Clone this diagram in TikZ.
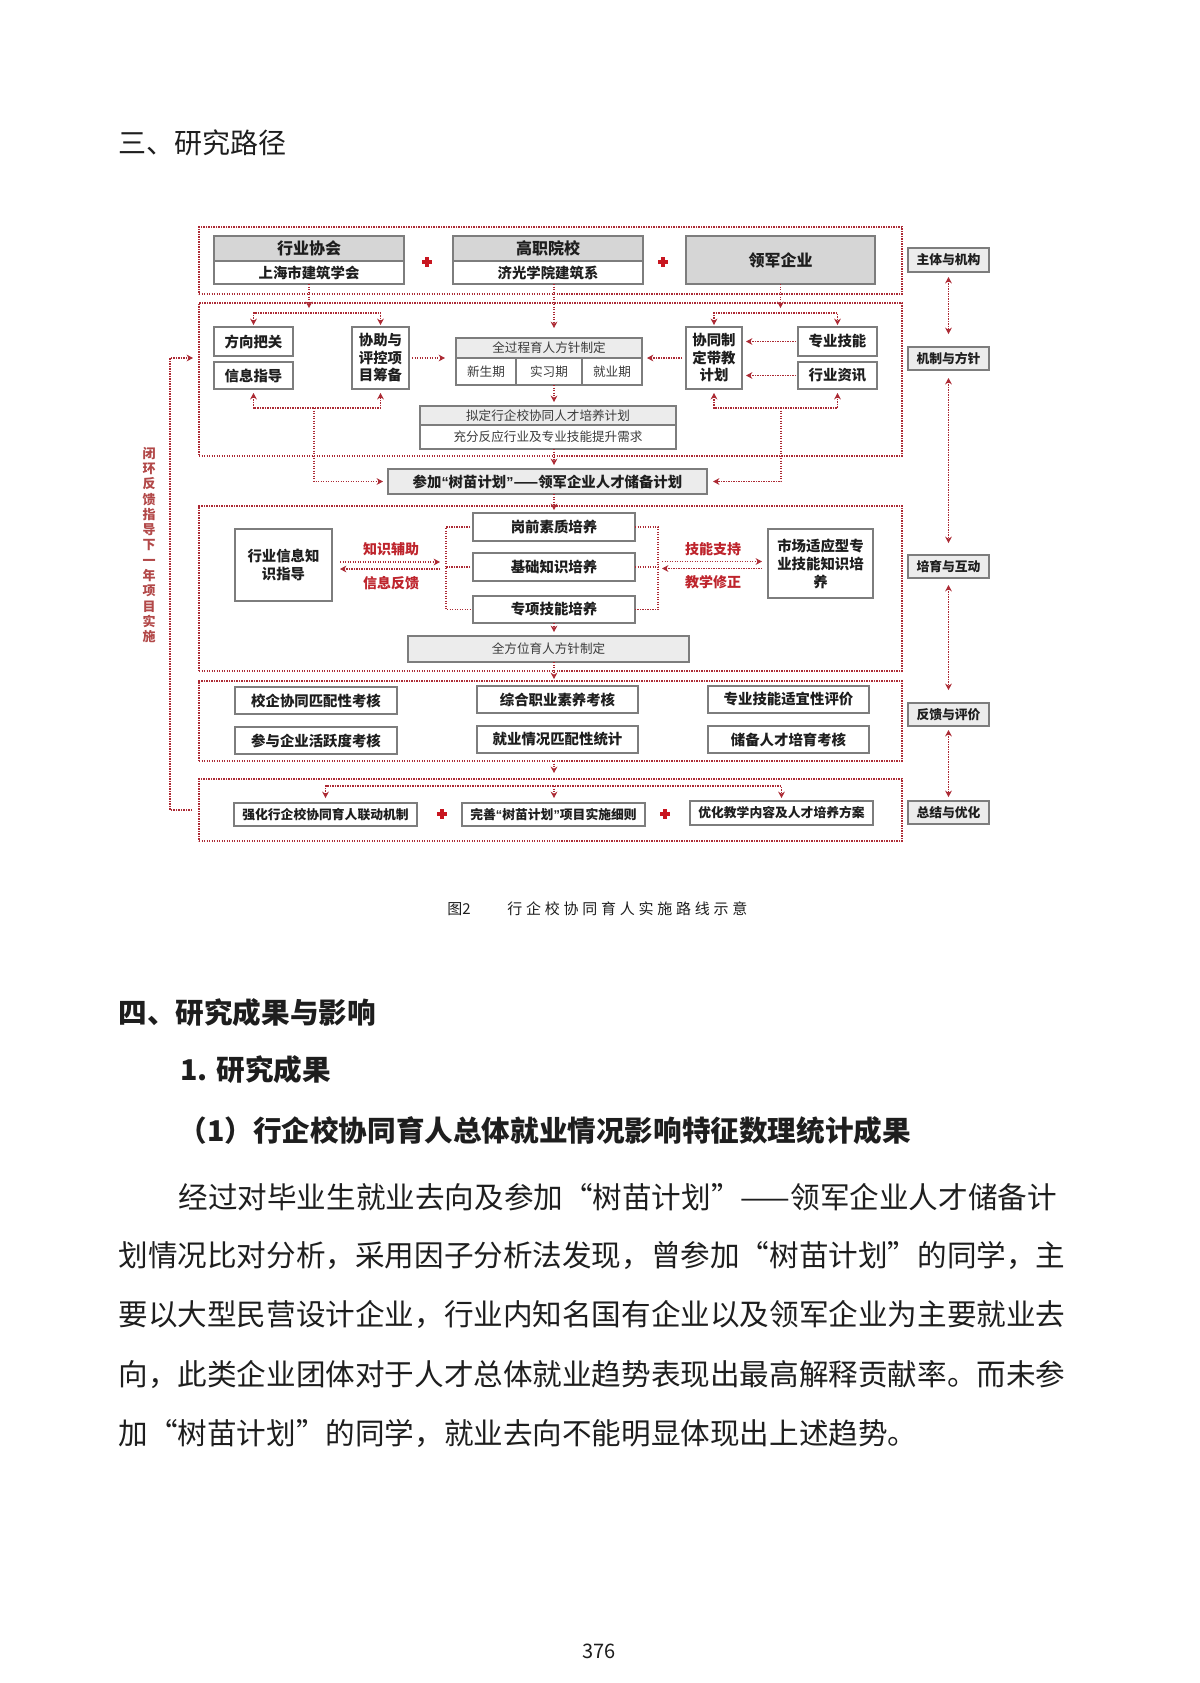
\documentclass[tikz,border=0pt]{standalone}
\usepackage{fontspec}
\setmainfont{Noto Sans CJK SC}
\newfontfamily\mycapfont[LetterSpace=25]{Noto Sans CJK SC}
\newfontfamily\myqfont{Liberation Sans}
\newcommand\myql{{\myqfont “}}
\newcommand\myqr{{\myqfont ”}}
\usetikzlibrary{arrows.meta}
\definecolor{dred}{RGB}{172,42,52}
\definecolor{xred}{RGB}{200,22,32}
\definecolor{lred}{RGB}{190,36,44}
\definecolor{vred}{RGB}{178,72,72}
\definecolor{bgray}{RGB}{125,125,125}
\definecolor{fillA}{RGB}{214,214,214}
\definecolor{fillB}{RGB}{236,236,236}
\definecolor{txt}{RGB}{30,30,30}
\definecolor{txtl}{RGB}{60,60,60}
\newcommand\myfs[2]{\fontsize{#1}{#2}\selectfont}
\newcommand\mynode[7]{\node[#1, minimum width={(#4-#2)*0.5pt}, minimum height={(#5-#3)*0.5pt}] (#6) at ({(#2+#4)/2},{(#3+#5)/2}) {#7};}
\tikzset{
 mybox/.style={draw=bgray, line width=0.75pt, fill=white, inner sep=0pt, outer sep=0pt, text=txt, align=center},
 mya/.style={mybox, fill=fillA},
 myb/.style={mybox, fill=fillB},
 mysec/.style={draw=dred, line width=0.7pt, dash pattern=on 0.7pt off 0.55pt, inner sep=0pt, outer sep=0pt},
 myline/.style={draw=dred, line width=0.7pt, dash pattern=on 0.7pt off 0.55pt},
 myarr/.style={myline, -{Stealth[length=3.2pt,width=3.4pt]}},
 mydarr/.style={myline, {Stealth[length=3.2pt,width=3.4pt]}-{Stealth[length=3.2pt,width=3.4pt]}},
 fbig/.style={font=\bfseries\myfs{8pt}{9pt}},
 fmid/.style={font=\bfseries\myfs{7.2pt}{8.75pt}},
 fmidb/.style={font=\bfseries\myfs{7.2pt}{9pt}},
 fsml/.style={font=\myfs{6.3pt}{7.5pt}, text=txtl},
 fsmb/.style={font=\bfseries\myfs{6.4pt}{7.5pt}},
 redlab/.style={font=\bfseries\myfs{7pt}{8pt}, text=lred, inner sep=0pt},
 plain/.style={anchor=west, inner sep=0pt, text=txt},
}
\begin{document}
\begin{tikzpicture}[x=0.5pt,y=-0.5pt]
\fill[white] (0,0) rectangle (1200,1683);
\useasboundingbox (0,0) rectangle (1200,1683);

% ---------- page text ----------
\node[plain, font=\myfs{14pt}{16pt}] (h1) at (118,143) {三、研究路径};
\node[plain, font=\myfs{7.5pt}{9pt}] (cap1) at (447,909) {图2};
\node[plain, font=\mycapfont\myfs{7.5pt}{9pt}] (cap2) at (507,909) {行企校协同育人实施路线示意};
\node[plain, font=\bfseries\myfs{14.3pt}{16pt}] (h2) at (118,1013) {四、研究成果与影响};
\node[plain, font=\bfseries\myfs{14.3pt}{16pt}] (h3) at (180,1070) {1. 研究成果};
\node[plain, font=\bfseries\myfs{14.3pt}{16pt}] (h4) at (178,1131) {（1）行企校协同育人总体就业情况影响特征数理统计成果};
\node[plain, font=\myfs{14.8pt}{16pt}] (p1) at (178,1197) {经过对毕业生就业去向及参加“树苗计划”——领军企业人才储备计};
\node[plain, font=\myfs{14.8pt}{16pt}] (p2) at (118,1256) {划情况比对分析，采用因子分析法发现，曾参加“树苗计划”的同学，主};
\node[plain, font=\myfs{14.8pt}{16pt}] (p3) at (118,1315) {要以大型民营设计企业，行业内知名国有企业以及领军企业为主要就业去};
\node[plain, font=\myfs{14.8pt}{16pt}] (p4) at (118,1374) {向，此类企业团体对于人才总体就业趋势表现出最高解释贡献率。而未参};
\node[plain, font=\myfs{14.8pt}{16pt}] (p5) at (118,1433) {加“树苗计划”的同学，就业去向不能明显体现出上述趋势。};
\node[inner sep=0pt, font=\myfs{10pt}{12pt}, text=txt] (pg) at (599,1651) {376};

% ---------- sections ----------
\mynode{mysec}{199}{227}{902}{294}{s1}{}
\mynode{mysec}{199}{303}{902}{456}{s2}{}
\mynode{mysec}{199}{506}{902}{671}{s3}{}
\mynode{mysec}{199}{681}{902}{761}{s4}{}
\mynode{mysec}{199}{779}{902}{841}{s5}{}

% ---------- section 1 ----------
\mynode{mya, fbig}{214}{236}{404}{261}{hy1}{行业协会}
\mynode{mybox, fmid}{214}{261}{404}{284}{hy2}{上海市建筑学会}
\mynode{mya, fbig}{453}{236}{643}{261}{gz1}{高职院校}
\mynode{mybox, fmid}{453}{261}{643}{284}{gz2}{济光学院建筑系}
\mynode{mya, fbig}{686}{236}{875}{284}{lj}{领军企业}
\fill[xred] (427,262) ++(-5.2,-1.8) rectangle ++(10.4,3.6);
\fill[xred] (427,262) ++(-1.8,-5.2) rectangle ++(3.6,10.4);
\fill[xred] (663,262) ++(-5.2,-1.8) rectangle ++(10.4,3.6);
\fill[xred] (663,262) ++(-1.8,-5.2) rectangle ++(3.6,10.4);

% ---------- section 2 ----------
\mynode{mybox, fmid}{214}{327}{293}{356}{fx}{方向把关}
\mynode{mybox, fmid}{214}{362}{293}{389}{xx}{信息指导}
\mynode{mybox, fmid}{352}{327}{409}{389}{xz}{协助与\\评控项\\目筹备}
\mynode{myb, fsml}{456}{338}{642}{358}{qg}{全过程育人方针制定}
\mynode{mybox, fsml}{456}{358}{516}{385}{q1}{新生期}
\mynode{mybox, fsml}{516}{358}{582}{385}{q2}{实习期}
\mynode{mybox, fsml}{582}{358}{642}{385}{q3}{就业期}
\mynode{myb, fsml}{420}{406}{676}{425}{nd1}{拟定行企校协同人才培养计划}
\mynode{mybox, fsml}{420}{425}{676}{449}{nd2}{充分反应行业及专业技能提升需求}
\mynode{mybox, fmid}{686}{327}{742}{389}{xt}{协同制\\定带教\\计划}
\mynode{mybox, fmid}{798}{327}{877}{356}{zy}{专业技能}
\mynode{mybox, fmid}{798}{362}{877}{389}{hz}{行业资讯}
\mynode{myb, fmid}{388}{469}{707}{494}{cj}{参加\myql 树苗计划\myqr ——领军企业人才储备计划}

% ---------- section 3 ----------
\mynode{mybox, fmidb}{235}{529}{332}{601}{hx}{行业信息知\\识指导}
\mynode{mybox, fmid}{473}{513}{635}{541}{gq}{岗前素质培养}
\mynode{mybox, fmid}{473}{553}{635}{581}{jc}{基础知识培养}
\mynode{mybox, fmid}{473}{596}{635}{623}{zx}{专项技能培养}
\mynode{mybox, fmidb}{768}{529}{873}{598}{sc}{市场适应型专\\业技能知识培\\养}
\mynode{myb, fsml}{408}{636}{689}{662}{qf}{全方位育人方针制定}
\node[redlab] (l1) at (391,549) {知识辅助};
\node[redlab] (l2) at (391,583) {信息反馈};
\node[redlab] (l3) at (713,549) {技能支持};
\node[redlab] (l4) at (713,582) {教学修正};

% ---------- section 4 ----------
\mynode{mybox, fmid}{235}{687}{397}{714}{a1}{校企协同匹配性考核}
\mynode{mybox, fmid}{235}{727}{397}{754}{a2}{参与企业活跃度考核}
\mynode{mybox, fmid}{477}{686}{638}{713}{b1}{综合职业素养考核}
\mynode{mybox, fmid}{477}{726}{638}{753}{b2}{就业情况匹配性统计}
\mynode{mybox, fmid}{708}{686}{869}{713}{c1}{专业技能适宜性评价}
\mynode{mybox, fmid}{708}{726}{869}{753}{c2}{储备人才培育考核}

% ---------- section 5 ----------
\mynode{mybox, fsmb}{234}{803}{417}{826}{d1}{强化行企校协同育人联动机制}
\mynode{mybox, fsmb}{462}{803}{645}{826}{d2}{完善\myql 树苗计划\myqr 项目实施细则}
\mynode{mybox, fsmb}{690}{801}{873}{825}{d3}{优化教学内容及人才培养方案}
\fill[xred] (442,814) ++(-5.2,-1.8) rectangle ++(10.4,3.6);
\fill[xred] (442,814) ++(-1.8,-5.2) rectangle ++(3.6,10.4);
\fill[xred] (665,814) ++(-5.2,-1.8) rectangle ++(10.4,3.6);
\fill[xred] (665,814) ++(-1.8,-5.2) rectangle ++(3.6,10.4);

% ---------- right column ----------
\mynode{myb, fsmb}{908}{248}{989}{272}{r1}{主体与机构}
\mynode{myb, fsmb}{908}{347}{989}{370}{r2}{机制与方针}
\mynode{myb, fsmb}{908}{555}{989}{578}{r3}{培育与互动}
\mynode{myb, fsmb}{908}{703}{989}{726}{r4}{反馈与评价}
\mynode{myb, fsmb}{908}{801}{989}{824}{r5}{总结与优化}

% ---------- vertical text ----------
\node[font=\bfseries\myfs{6.5pt}{7.65pt}, text=vred, align=center, inner sep=0pt] (vt) at (149,545) {闭\\环\\反\\馈\\指\\导\\下\\一\\年\\项\\目\\实\\施};

% ---------- connectors ----------
\coordinate (sp) at (554,0);
\coordinate (lb) at (314,408);
\coordinate (rb) at (781,408);
\coordinate (lbx) at (446,567);
\coordinate (rbx) at (658,567);
\coordinate (br) at (554,786);

\draw[myarr] (hy2.south) -- ++(0,24);
\draw[mydarr, shorten <=1pt, shorten >=1pt] (fx.north) -- ++(0,-14) -| (xz.north);
\draw[mydarr, shorten <=2pt, shorten >=2pt] (xx.south) -- ++(0,19) -| (xz.south);
\draw[myarr, shorten >=2.5pt] (lb) |- (cj.west);
\draw[myarr, shorten <=1.5pt, shorten >=5.5pt] (xz.east) -- (xz.east -| qg.west);
\draw[myarr, shorten >=5pt] (gz2.south -| sp) -- (qg.north -| sp);
\draw[myarr, shorten >=2pt] (q2.south -| sp) -- (nd1.north -| sp);
\draw[myarr, shorten >=2pt] (nd2.south -| sp) -- (cj.north -| sp);
\draw[myarr, shorten >=1.5pt] (cj.south -| sp) -- (gq.north -| sp);

\draw[myarr] (lj.south) -- ++(0,24);
\draw[mydarr, shorten <=1pt, shorten >=1pt] (xt.north) -- ++(0,-14) -| (zy.north);
\draw[mydarr, shorten <=2pt, shorten >=2pt] (xt.south) -- ++(0,19) -| (hz.south);
\draw[myarr, shorten >=3pt] (rb) |- (cj.east);
\draw[myarr, shorten <=1pt, shorten >=2pt] (zy.west) -- (zy.west -| xt.east);
\draw[myarr, shorten <=1pt, shorten >=2pt] (hz.west) -- (hz.west -| xt.east);
\draw[myarr, shorten <=2pt, shorten >=2.5pt] (xt.west) -- (xt.west -| qg.east);

\draw[myline] ([xshift=-1.5pt]gq.west) -- (gq.west -| lbx) -- (zx.west -| lbx) -- ([xshift=-1.5pt]zx.west);
\draw[myline] ([xshift=-1.5pt]jc.west) -- (jc.west -| lbx);
\draw[myline] (gq.east) -- (gq.east -| rbx) -- (zx.east -| rbx) -- (zx.east);
\draw[myline] (jc.east) -- (jc.east -| rbx);
\draw[myarr, shorten <=4pt, shorten >=3pt] ([yshift=1.5pt]hx.east) -- ([yshift=1.5pt]hx.east -| lbx);
\draw[myarr, shorten <=3pt, shorten >=4pt] ([yshift=-2pt]hx.east -| lbx) -- ([yshift=-2pt]hx.east);
\draw[myarr, shorten <=2pt, shorten >=3pt] ([yshift=1pt]sc.west -| rbx) -- ([yshift=1pt]sc.west);
\draw[myarr, shorten <=3pt, shorten >=2pt] ([yshift=-2.5pt]sc.west) -- ([yshift=-2.5pt]sc.west -| rbx);

\draw[myarr, shorten >=2pt] (zx.south -| sp) -- (qf.north -| sp);
\draw[myarr, shorten >=1pt] (qf.south -| sp) -- (s4.north -| sp);
\draw[myarr, shorten >=3pt] (s4.south -| sp) -- (s5.north -| sp);

\draw[mydarr, shorten <=2.5pt, shorten >=1.5pt] (d1.north) |- (br) -| (d3.north);
\draw[myarr, shorten >=2.5pt] (br) -- (d2.north -| br);

\draw[mydarr, shorten <=2.5pt, shorten >=6.5pt] (r1.south) -- (r2.north);
\draw[mydarr, shorten <=4pt, shorten >=6pt] (r2.south) -- (r3.north);
\draw[mydarr, shorten <=3.5pt, shorten >=6.5pt] (r3.south) -- (r4.north);
\draw[mydarr, shorten <=2pt, shorten >=2pt] (r4.south) -- (r5.north);

\draw[myarr, shorten <=3.5pt, shorten >=3pt] (s5.west) -- ++(-29,0) |- (s2.west |- xz.center);
\end{tikzpicture}
\end{document}
